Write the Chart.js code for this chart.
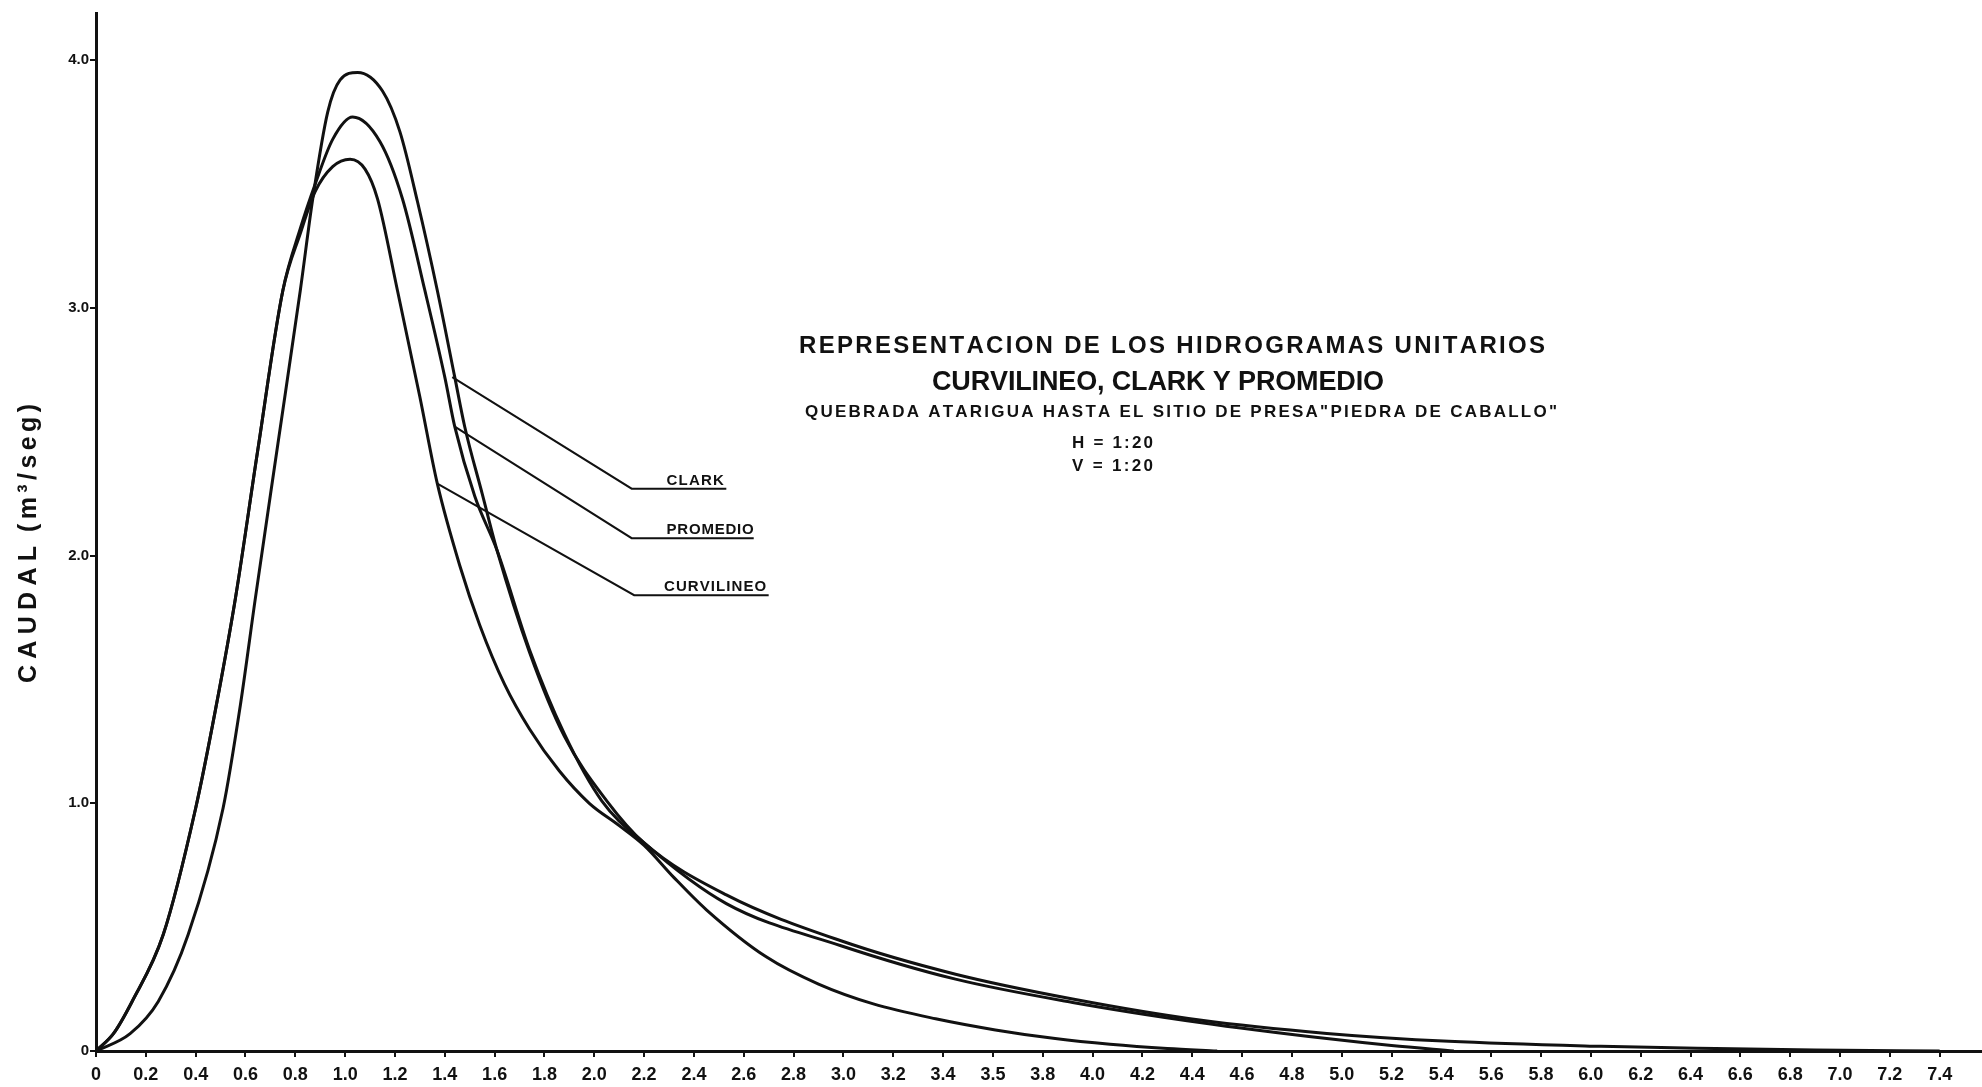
<!DOCTYPE html>
<html>
<head>
<meta charset="utf-8">
<script src="https://cdn.jsdelivr.net/npm/chart.js@4/dist/chart.umd.min.js"></script>
<style>
  html, body { margin: 0; padding: 0; background: #fff; }
  canvas { display: block; }
</style>
</head>
<body>
<canvas id="hydroChart" width="1982" height="1087"></canvas>
<script>
// hidrogramas unitarios, values (hours vs m3/seg)
const curvilineoX = [0, 0.07, 0.145, 0.27, 0.40, 0.48, 0.56, 0.65, 0.75, 0.82, 0.88, 0.95, 1.02, 1.08, 1.13, 1.21, 1.30, 1.37, 1.46, 1.54, 1.64, 1.74, 1.86, 1.98, 2.10, 2.20, 2.32, 2.45, 2.69, 2.90, 3.12, 3.37, 3.61, 3.85, 4.07, 4.30, 4.50];
const curvilineoY = [0, 0.07, 0.20, 0.47, 0.98, 1.38, 1.83, 2.43, 3.07, 3.30, 3.47, 3.57, 3.60, 3.56, 3.44, 3.07, 2.64, 2.29, 1.96, 1.72, 1.48, 1.30, 1.13, 1.00, 0.91, 0.83, 0.70, 0.57, 0.38, 0.27, 0.19, 0.13, 0.085, 0.05, 0.027, 0.01, 0];

const clarkX = [0, 0.137, 0.25, 0.37, 0.51, 0.58, 0.64, 0.73, 0.82, 0.87, 0.93, 0.98, 1.05, 1.15, 1.22, 1.29, 1.37, 1.44, 1.48, 1.55, 1.61, 1.74, 1.88, 2.05, 2.20, 2.53, 2.99, 3.45, 3.92, 4.43, 4.94, 5.43, 6.04, 6.50, 6.90, 7.40];
const clarkY = [0, 0.07, 0.20, 0.47, 0.98, 1.40, 1.83, 2.45, 3.07, 3.44, 3.79, 3.92, 3.95, 3.875, 3.71, 3.43, 3.07, 2.72, 2.52, 2.25, 2.02, 1.61, 1.27, 1.01, 0.84, 0.63, 0.445, 0.31, 0.21, 0.125, 0.071, 0.039, 0.019, 0.01, 0.004, 0];

const promedioX = [0, 0.07, 0.145, 0.27, 0.40, 0.48, 0.56, 0.65, 0.75, 0.82, 0.88, 0.95, 1.03, 1.14, 1.23, 1.32, 1.40, 1.44, 1.52, 1.61, 1.74, 1.88, 2.03, 2.20, 2.53, 2.99, 3.45, 3.92, 4.43, 4.94, 5.20, 5.45];
const promedioY = [0, 0.07, 0.20, 0.47, 0.98, 1.38, 1.83, 2.43, 3.07, 3.32, 3.50, 3.68, 3.77, 3.67, 3.44, 3.07, 2.72, 2.52, 2.24, 2.02, 1.62, 1.28, 1.01, 0.84, 0.595, 0.425, 0.29, 0.196, 0.115, 0.05, 0.022, 0];

// leader lines to the curve names
const clarkLeaderX = [1.43, 2.15, 2.53];
const clarkLeaderY = [2.72, 2.27, 2.27];
const promedioLeaderX = [1.44, 2.15, 2.64];
const promedioLeaderY = [2.52, 2.07, 2.07];
const curvilineoLeaderX = [1.37, 2.16, 2.70];
const curvilineoLeaderY = [2.29, 1.84, 1.84];

const labelNames = ['CLARK', 'PROMEDIO', 'CURVILINEO'];
const labelX = [2.29, 2.29, 2.28];
const labelEndX = [2.52, 2.64, 2.69];
const labelY = [2.27, 2.07, 1.84];

const xTickValues = [0, 0.2, 0.4, 0.6, 0.8, 1.0, 1.2, 1.4, 1.6, 1.8, 2.0, 2.2, 2.4, 2.6, 2.8, 3.0, 3.2, 3.4, 3.6, 3.8, 4.0, 4.2, 4.4, 4.6, 4.8, 5.0, 5.2, 5.4, 5.6, 5.8, 6.0, 6.2, 6.4, 6.6, 6.8, 7.0, 7.2, 7.4];
const xTickLabels = ['0', '0.2', '0.4', '0.6', '0.8', '1.0', '1.2', '1.4', '1.6', '1.8', '2.0', '2.2', '2.4', '2.6', '2.8', '3.0', '3.2', '3.4', '3.5', '3.8', '4.0', '4.2', '4.4', '4.6', '4.8', '5.0', '5.2', '5.4', '5.6', '5.8', '6.0', '6.2', '6.4', '6.6', '6.8', '7.0', '7.2', '7.4'];
const yTickValues = [0, 1, 2, 3, 4];
const yTickLabels = ['0', '1.0', '2.0', '3.0', '4.0'];

const INK = '#111';

function pts(xs, ys) {
  return xs.map((x, i) => ({ x: x, y: ys[i] }));
}

function curve(xs, ys) {
  return { data: pts(xs, ys), borderColor: INK, borderWidth: 3, cubicInterpolationMode: 'monotone', pointRadius: 0, fill: false };
}

function leader(xs, ys) {
  return { data: pts(xs, ys), borderColor: INK, borderWidth: 2, tension: 0, pointRadius: 0, fill: false };
}

// draw text stretched between left and right by spacing the letters
function spaced(ctx, text, left, right, base, font) {
  ctx.font = font;
  const chars = [...text];
  const widths = chars.map(c => ctx.measureText(c).width);
  const total = widths.reduce((a, b) => a + b, 0);
  const gap = chars.length > 1 ? (right - left - total) / (chars.length - 1) : 0;
  let cx = left;
  chars.forEach((c, i) => {
    ctx.fillText(c, cx, base);
    cx += widths[i] + gap;
  });
}

const notesPlugin = {
  id: 'notes',
  afterDatasetsDraw(chart) {
    const ctx = chart.ctx;
    const sx = chart.scales.x;
    const sy = chart.scales.y;
    ctx.save();
    ctx.fillStyle = INK;
    ctx.textBaseline = 'alphabetic';
    ctx.textAlign = 'left';

    labelNames.forEach((name, i) => {
      const left = sx.getPixelForValue(labelX[i]);
      const right = sx.getPixelForValue(labelEndX[i]);
      const base = sy.getPixelForValue(labelY[i]) - 4;
      spaced(ctx, name, left, right, base, 'bold 15px "Liberation Sans"');
    });

    spaced(ctx, 'REPRESENTACION DE LOS HIDROGRAMAS UNITARIOS', 799, 1545, 353, 'bold 24px "Liberation Sans"');
    spaced(ctx, 'CURVILINEO, CLARK Y PROMEDIO', 932, 1384, 390, 'bold 27px "Liberation Sans"');
    spaced(ctx, 'QUEBRADA ATARIGUA HASTA EL SITIO DE PRESA"PIEDRA DE CABALLO"', 805, 1557, 417, 'bold 17px "Liberation Sans"');
    spaced(ctx, 'H = 1:20', 1072, 1153, 448, 'bold 17px "Liberation Sans"');
    spaced(ctx, 'V = 1:20', 1072, 1153, 471, 'bold 17px "Liberation Sans"');

    // y axis title
    ctx.translate(36, 683);
    ctx.rotate(-Math.PI / 2);
    spaced(ctx, 'CAUDAL', 0, 137, 0, 'bold 25px "Liberation Sans"');
    spaced(ctx, '(m³/seg)', 151, 279, 0, 'bold 25px "Liberation Sans"');
    ctx.restore();
  }
};

new Chart(document.getElementById('hydroChart'), {
  type: 'line',
  data: {
    datasets: [
      curve(curvilineoX, curvilineoY),
      curve(promedioX, promedioY),
      curve(clarkX, clarkY),
      leader(clarkLeaderX, clarkLeaderY),
      leader(promedioLeaderX, promedioLeaderY),
      leader(curvilineoLeaderX, curvilineoLeaderY)
    ]
  },
  options: {
    responsive: false,
    animation: false,
    devicePixelRatio: 1,
    layout: { padding: { top: 13, right: 0, left: 0, bottom: 0 } },
    plugins: { legend: { display: false }, tooltip: { enabled: false }, title: { display: false } },
    scales: {
      x: {
        type: 'linear',
        min: 0,
        max: 7.57,
        afterFit: s => { s.height = 36; },
        afterBuildTicks: s => { s.ticks = xTickValues.map(v => ({ value: v })); },
        ticks: {
          callback: (v, i) => xTickLabels[i],
          autoSkip: false,
          maxRotation: 0,
          padding: 7,
          color: INK,
          font: { family: 'Liberation Sans', weight: 'bold', size: 18 }
        },
        grid: { drawOnChartArea: false, color: INK, lineWidth: 2, tickLength: 6 },
        border: { color: INK, width: 3 }
      },
      y: {
        min: 0,
        max: 4.19,
        afterFit: s => { s.width = 96; },
        afterBuildTicks: s => { s.ticks = yTickValues.map(v => ({ value: v })); },
        ticks: {
          callback: (v, i) => yTickLabels[i],
          padding: 1,
          color: INK,
          font: { family: 'Liberation Sans', weight: 'bold', size: 15 }
        },
        grid: { drawOnChartArea: false, color: INK, lineWidth: 2, tickLength: 6 },
        border: { color: INK, width: 3 }
      }
    }
  },
  plugins: [notesPlugin]
});
</script>
</body>
</html>
